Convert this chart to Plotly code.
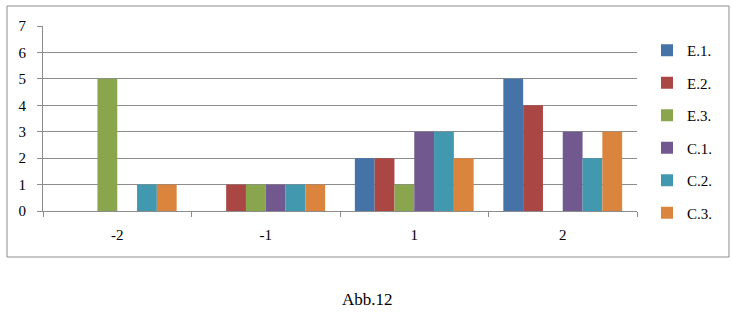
import plotly.graph_objects as go

categories = ["-2", "-1", "1", "2"]
series_names = ["E.1.", "E.2.", "E.3.", "C.1.", "C.2.", "C.3."]
e1 = [0, 0, 2, 5]
e2 = [0, 1, 2, 4]
e3 = [5, 1, 1, 0]
c1 = [0, 1, 3, 3]
c2 = [1, 1, 3, 2]
c3 = [1, 1, 2, 3]
series_values = [e1, e2, e3, c1, c2, c3]
colors = ["#4572A7", "#AA4643", "#89A54E", "#71588F", "#4198AF", "#DB843D"]
y_ticks = [0, 1, 2, 3, 4, 5, 6, 7]

FONT = "Liberation Serif, Times New Roman, serif"
GRID = "#8c8c8c"

fig = go.Figure()
for name, vals, col in zip(series_names, series_values, colors):
    fig.add_trace(go.Bar(
        x=categories, y=vals, name=name, legendgroup=name,
        marker=dict(color=col, line=dict(width=0)),
    ))

L, R, T, B = 43, 95, 26, 102
W, H = 732, 313
pw, ph = W - L - R, H - T - B

def px(x):
    return (x - L) / pw

def py(y):
    return (H - B - y) / ph

fig.update_layout(
    width=W, height=H,
    margin=dict(l=L, r=R, t=T, b=B, pad=0, autoexpand=False),
    paper_bgcolor="white", plot_bgcolor="white",
    barmode="group", bargap=0.2, bargroupgap=0,
    font=dict(family=FONT, size=15, color="black"),
    showlegend=True,
    legend=dict(
        x=px(647), y=py(34), xanchor="left", yanchor="top",
        traceorder="grouped", tracegroupgap=10, maxheight=260,
        font=dict(family=FONT, size=15, color="black"),
        bgcolor="rgba(0,0,0,0)",
    ),
    xaxis=dict(
        type="category", showline=True, linecolor=GRID, linewidth=1,
        ticks="outside", tickson="boundaries", ticklen=5, tickcolor=GRID,
        showgrid=False, ticklabelstandoff=10,
        tickfont=dict(family=FONT, size=15, color="black"),
    ),
    yaxis=dict(
        range=[0, 7], tickvals=y_ticks, showline=True, linecolor=GRID, linewidth=1,
        ticks="outside", ticklen=5, tickcolor=GRID,
        showgrid=True, gridcolor=GRID, gridwidth=1, zeroline=False,
        ticklabelstandoff=8,
        tickfont=dict(family=FONT, size=15, color="black"),
    ),
    shapes=[dict(
        type="rect", xref="paper", yref="paper",
        x0=px(7), x1=px(729), y0=py(257), y1=py(6),
        line=dict(color=GRID, width=1), fillcolor="rgba(0,0,0,0)", layer="below",
    )],
    annotations=[dict(
        text="Abb.12", xref="paper", yref="paper",
        x=px(367), y=py(299), xanchor="center", yanchor="middle",
        showarrow=False, font=dict(family=FONT, size=17, color="black"),
    )],
)

fig.write_html(
    "out.html",
    config={"displayModeBar": False},
    post_script="document.body.style.margin='0';document.body.style.padding='0';",
)
